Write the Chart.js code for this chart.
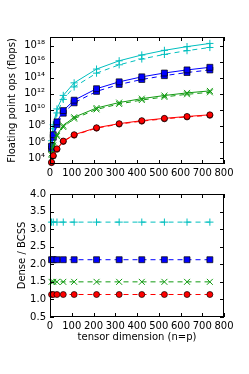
<!DOCTYPE html>
<html>
<head>
<meta charset="utf-8">
<script src="https://cdn.jsdelivr.net/npm/chart.js@4/dist/chart.umd.min.js"></script>
<style>
  html, body { margin: 0; padding: 0; background: #fff; }
  body { width: 249px; height: 374px; position: relative; overflow: hidden; }
  #top { position: absolute; left: 0; top: 0; }
  #bot { position: absolute; left: 0; top: 184px; }
</style>
</head>
<body>
<canvas id="top" width="249" height="184"></canvas>
<canvas id="bot" width="249" height="190"></canvas>
<script>
// ---- data ----
const dims = [7, 15, 32, 61, 111, 214, 318, 422, 526, 630, 735];

// Floating point ops, dense (solid) and BCSS (dashed)
const redDense   = [3.0e3, 2.0e4, 1.4e5, 1.3e6, 8.0e6, 5.9e7, 1.9e8, 4.5e8, 8.7e8, 1.5e9, 2.4e9];
const redBcss    = [2.6e3, 1.75e4, 1.2e5, 1.14e6, 7.0e6, 5.2e7, 1.67e8, 3.9e8, 7.6e8, 1.3e9, 2.1e9];
const greenDense = [3.5e4, 3.5e5, 8.0e6, 1.1e8, 1.2e9, 1.7e10, 8.1e10, 2.5e11, 6.1e11, 1.3e12, 2.3e12];
const greenBcss  = [2.3e4, 2.3e5, 5.3e6, 7.3e7, 8.0e8, 1.13e10, 5.4e10, 1.67e11, 4.1e11, 8.7e11, 1.53e12];
const blueDense  = [3.0e5, 8.0e6, 3.2e8, 8.1e9, 1.6e11, 4.3e12, 3.1e13, 1.3e14, 3.9e14, 9.5e14, 2.0e15];
const blueBcss   = [1.4e5, 3.8e6, 1.5e8, 3.8e9, 7.5e10, 2.0e12, 1.46e13, 6.1e13, 1.83e14, 4.5e14, 9.4e14];
const cyanDense  = [1.4e6, 1.4e8, 1.3e10, 6.3e11, 2.3e13, 1.2e15, 1.3e16, 6.9e16, 2.6e17, 7.6e17, 1.9e18];
const cyanBcss   = [4.4e5, 4.4e7, 4.1e9, 2.0e11, 7.2e12, 3.75e14, 4.1e15, 2.2e16, 8.1e16, 2.4e17, 5.9e17];

// Dense / BCSS ratio
const redRatio   = [1.14, 1.14, 1.14, 1.14, 1.14, 1.14, 1.14, 1.14, 1.14, 1.14, 1.14];
const greenRatio = [1.5, 1.5, 1.5, 1.5, 1.5, 1.5, 1.5, 1.5, 1.5, 1.5, 1.5];
const blueRatio  = [2.13, 2.13, 2.13, 2.13, 2.13, 2.13, 2.13, 2.13, 2.13, 2.13, 2.13];
const cyanRatio  = [3.2, 3.2, 3.2, 3.2, 3.2, 3.2, 3.2, 3.2, 3.2, 3.2, 3.2];

// tick labels
const xTicks = [0, 100, 200, 300, 400, 500, 600, 700, 800];
const topYTicks = [1e4, 1e6, 1e8, 1e10, 1e12, 1e14, 1e16, 1e18];
const botYTicks = [0.5, 1.0, 1.5, 2.0, 2.5, 3.0, 3.5, 4.0];

const topYLabel = 'Floating point ops (flops)';
const botYLabel = 'Dense / BCSS';
const botXLabel = 'tensor dimension (n=p)';

// ---- styling ----
const C = { red: '#ff0000', green: '#119a11', blue: '#0000ff', cyan: '#00bfbf' };
const FONT = { family: 'DejaVu Sans', size: 10 };
const SUP = { '0':'⁰','1':'¹','2':'²','3':'³','4':'⁴','5':'⁵','6':'⁶','7':'⁷','8':'⁸','9':'⁹' };
const supText = n => String(n).split('').map(c => SUP[c]).join('');

function pts(arr) { return dims.map((d, i) => ({ x: d, y: arr[i] })); }

function series(arr, color, style, dashed) {
  const filled = style === 'circle' || style === 'rect';
  const radius = style === 'circle' ? 3 : style === 'rect' ? 4.2 : style === 'cross' ? 3.6 : 4.2;
  return {
    data: pts(arr),
    borderColor: color,
    borderWidth: 1,
    borderDash: dashed ? [5, 4] : [],
    pointStyle: style,
    pointRadius: radius,
    pointBackgroundColor: color,
    pointBorderColor: filled ? '#000' : color,
    pointBorderWidth: filled ? 0.7 : 1,
    tension: 0,
    fill: false,
    clip: 4
  };
}

const frameTicks = {
  id: 'frameTicks',
  afterDatasetsDraw(chart) {
    const { ctx, chartArea: { left, right, top, bottom }, scales: { x, y } } = chart;
    ctx.save();
    ctx.strokeStyle = '#000';
    ctx.lineWidth = 1;
    ctx.beginPath();
    const L = 4;
    x.ticks.forEach(t => {
      const px = Math.round(x.getPixelForValue(t.value)) + 0.5;
      ctx.moveTo(px, bottom); ctx.lineTo(px, bottom - L);
      ctx.moveTo(px, top); ctx.lineTo(px, top + L);
    });
    y.ticks.forEach(t => {
      const py = Math.round(y.getPixelForValue(t.value)) + 0.5;
      ctx.moveTo(left, py); ctx.lineTo(left + L, py);
      ctx.moveTo(right, py); ctx.lineTo(right - L, py);
    });
    ctx.stroke();
    ctx.strokeRect(Math.round(left) + 0.5, Math.round(top) + 0.5,
                   Math.round(right - left) - 1, Math.round(bottom - top) - 1);
    ctx.restore();
  }
};

const common = {
  responsive: false,
  animation: false,
  devicePixelRatio: 1,
  plugins: { legend: { display: false }, tooltip: { enabled: false } },
  elements: { line: { tension: 0 } }
};

function xScale(titleCfg, height) {
  return {
    type: 'linear', min: 0, max: 800,
    afterBuildTicks: s => { s.ticks = xTicks.map(v => ({ value: v })); },
    afterFit: s => { s.height = height; },
    grid: { display: false, drawTicks: false, tickLength: 0 },
    border: { display: false },
    ticks: { font: FONT, color: '#000', padding: 3, autoSkip: false, maxRotation: 0, callback: v => String(v) },
    title: titleCfg
  };
}

// ---- top chart ----
new Chart(document.getElementById('top'), {
  type: 'line',
  data: {
    datasets: [
      series(redDense, C.red, 'circle', false),
      series(redBcss, C.red, 'circle', true),
      series(greenDense, C.green, 'crossRot', false),
      series(greenBcss, C.green, 'crossRot', true),
      series(blueDense, C.blue, 'rect', false),
      series(blueBcss, C.blue, 'rect', true),
      series(cyanDense, C.cyan, 'cross', false),
      series(cyanBcss, C.cyan, 'cross', true)
    ]
  },
  options: Object.assign({}, common, {
    layout: { padding: { top: 37, right: 25, left: 0, bottom: 0 } },
    scales: {
      x: xScale({ display: false }, 20),
      y: {
        type: 'logarithmic', min: 1.78e3, max: 1.2e19,
        afterBuildTicks: s => { s.ticks = topYTicks.map(v => ({ value: v })); },
        afterFit: s => { s.width = 50; },
        grid: { display: false, drawTicks: false, tickLength: 0 },
        border: { display: false },
        ticks: { font: FONT, color: '#000', padding: 5, autoSkip: false,
                 callback: v => '10' + supText(Math.round(Math.log10(v))) },
        title: { display: true, text: topYLabel, font: FONT, color: '#000', padding: { top: 6, bottom: 0 } }
      }
    }
  }),
  plugins: [frameTicks]
});

// ---- bottom chart ----
new Chart(document.getElementById('bot'), {
  type: 'line',
  data: {
    datasets: [
      series(redRatio, C.red, 'circle', true),
      series(greenRatio, C.green, 'crossRot', true),
      series(blueRatio, C.blue, 'rect', true),
      series(cyanRatio, C.cyan, 'cross', true)
    ]
  },
  options: Object.assign({}, common, {
    layout: { padding: { top: 7, right: 25, left: 0, bottom: 27 } },
    scales: {
      x: xScale({ display: true, text: botXLabel, font: FONT, color: '#000', padding: 4 }, 30),
      y: {
        type: 'linear', min: 0.5, max: 4.0,
        afterBuildTicks: s => { s.ticks = botYTicks.map(v => ({ value: v })); },
        afterFit: s => { s.width = 50; },
        grid: { display: false, drawTicks: false, tickLength: 0 },
        border: { display: false },
        ticks: { font: FONT, color: '#000', padding: 4, autoSkip: false, callback: v => Number(v).toFixed(1) },
        title: { display: true, text: botYLabel, font: FONT, color: '#000', padding: { top: 16, bottom: 0 } }
      }
    }
  }),
  plugins: [frameTicks]
});
</script>
</body>
</html>
